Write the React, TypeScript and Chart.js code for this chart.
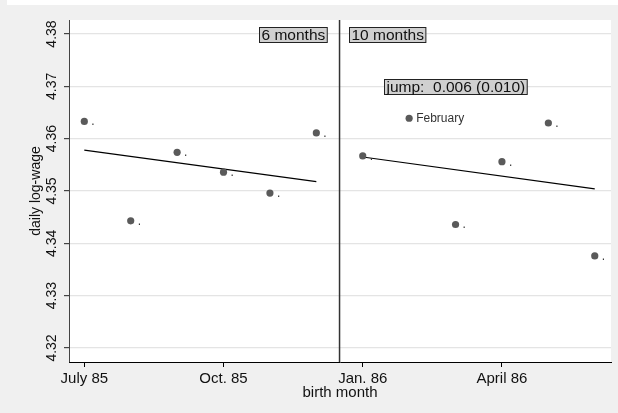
import React, { useEffect, useRef } from "react";
import { Chart, registerables } from "chart.js";

Chart.register(...registerables);

// ---- data ----
const birthMonth = [0, 1, 2, 3, 4, 5, 6, 7, 8, 9, 10, 11];
const logWage = [4.3633, 4.3443, 4.3574, 4.3536, 4.3496, 4.3611, 4.3567, 4.3639, 4.3436, 4.3556, 4.363, 4.3376];
const markerLabels = [".", ".", ".", ".", ".", ".", ".", "February", ".", ".", ".", "."];
const fitLeftX = [0, 5];
const fitLeftY = [4.3578, 4.3518];
const fitRightX = [6, 11];
const fitRightY = [4.3565, 4.3504];
const cutoff = 5.5;
const xTickValues = [0, 3, 6, 9];
const xTickLabels = ["July 85", "Oct. 85", "Jan. 86", "April 86"];
const yTickValues = [4.32, 4.33, 4.34, 4.35, 4.36, 4.37, 4.38];
const boxTexts = ["6 months", "10 months", "jump:  0.006 (0.010)"];

// ---- annotation placement (data coords) ----
const boxAnchors = [
  { x: 5.22, y: 4.38, align: "right" },
  { x: 5.7, y: 4.38, align: "left" },
  { x: 8.0, y: 4.37, align: "center" },
];

const X_MIN = -0.33;
const X_MAX = 11.35;
const Y_MIN = 4.31732;
const Y_MAX = 4.38268;
const FONT = '"Liberation Sans", Arial, Helvetica, sans-serif';

const decorPlugin = {
  id: "decor",
  beforeDraw(chart: any) {
    const { ctx, chartArea: a, width, height } = chart;
    ctx.save();
    ctx.fillStyle = "#f0f0f0";
    ctx.fillRect(0, 0, width, height);
    ctx.fillStyle = "#ffffff";
    ctx.fillRect(7, 0, width - 7, 5);
    ctx.fillRect(a.left, a.top, a.right - a.left, a.bottom - a.top);
    ctx.restore();
  },
  afterDatasetsDraw(chart: any) {
    const { ctx } = chart;
    const xs = chart.scales.x;
    const ys = chart.scales.y;
    ctx.save();
    // marker labels
    ctx.font = `12px ${FONT}`;
    ctx.fillStyle = "#333";
    ctx.textAlign = "left";
    ctx.textBaseline = "middle";
    birthMonth.forEach((m, i) => {
      const px = xs.getPixelForValue(m);
      const py = ys.getPixelForValue(logWage[i]);
      ctx.fillText(markerLabels[i], px + 7, py + 0.5);
    });
    // boxed text
    ctx.font = `15.5px ${FONT}`;
    ctx.textBaseline = "middle";
    ctx.textAlign = "left";
    boxTexts.forEach((t, i) => {
      const an = boxAnchors[i];
      const w = ctx.measureText(t).width;
      const bw = w + 4;
      const bh = 15;
      const ax = xs.getPixelForValue(an.x);
      const cy = ys.getPixelForValue(an.y);
      let left = ax;
      if (an.align === "right") left = ax - bw;
      else if (an.align === "center") left = ax - bw / 2;
      left = Math.round(left) + 0.5;
      const top = Math.round(cy - bh / 2) + 0.5;
      ctx.fillStyle = "#d0d0d0";
      ctx.fillRect(left, top, bw, bh);
      ctx.strokeStyle = "#222";
      ctx.lineWidth = 1;
      ctx.strokeRect(left, top, bw, bh);
      ctx.fillStyle = "#111";
      ctx.fillText(t, left + 2, top + bh / 2 + 0.5);
    });
    ctx.restore();
  },
};

export default function App() {
  const canvasRef = useRef<HTMLCanvasElement | null>(null);

  useEffect(() => {
    document.body.style.margin = "0";
    const canvas = canvasRef.current;
    if (!canvas) return;
    const points = birthMonth.map((m, i) => ({ x: m, y: logWage[i] }));
    const leftFit = fitLeftX.map((x, i) => ({ x, y: fitLeftY[i] }));
    const rightFit = fitRightX.map((x, i) => ({ x, y: fitRightY[i] }));
    const cutLine = [
      { x: cutoff, y: Y_MIN },
      { x: cutoff, y: Y_MAX },
    ];
    const chart = new Chart(canvas, {
      type: "scatter",
      data: {
        datasets: [
          {
            data: points,
            backgroundColor: "#5a5a5a",
            borderColor: "#5a5a5a",
            pointRadius: 3.6,
            pointBorderWidth: 0,
            showLine: false,
          },
          {
            data: leftFit,
            showLine: true,
            borderColor: "#000",
            borderWidth: 1.2,
            pointRadius: 0,
          },
          {
            data: rightFit,
            showLine: true,
            borderColor: "#000",
            borderWidth: 1.2,
            pointRadius: 0,
          },
          {
            data: cutLine,
            showLine: true,
            borderColor: "#333",
            borderWidth: 1.5,
            pointRadius: 0,
          },
        ],
      },
      options: {
        animation: false,
        responsive: true,
        maintainAspectRatio: false,
        layout: { padding: { top: 20, right: 7, left: 0, bottom: 0 } },
        plugins: {
          legend: { display: false },
          tooltip: { enabled: false },
        },
        scales: {
          x: {
            type: "linear",
            min: X_MIN,
            max: X_MAX,
            afterBuildTicks: (s: any) => {
              s.ticks = xTickValues.map((v) => ({ value: v }));
            },
            afterFit: (s: any) => {
              s.height = 51;
            },
            ticks: {
              callback: (v: any, i: number) => xTickLabels[i],
              font: { family: FONT, size: 15 },
              color: "#111",
              padding: 3,
              maxRotation: 0,
              minRotation: 0,
              autoSkip: false,
            },
            grid: {
              drawOnChartArea: false,
              drawTicks: true,
              tickLength: 5,
              tickColor: "#000",
            },
            border: { color: "#000", width: 1 },
            title: {
              display: true,
              text: "birth month",
              font: { family: FONT, size: 15 },
              color: "#111",
              padding: { top: 0, bottom: 11 },
            },
          },
          y: {
            type: "linear",
            min: Y_MIN,
            max: Y_MAX,
            afterBuildTicks: (s: any) => {
              s.ticks = yTickValues.map((v) => ({ value: v }));
            },
            afterFit: (s: any) => {
              s.width = 69;
            },
            ticks: {
              callback: (v: any) => Number(v).toFixed(2),
              font: { family: FONT, size: 14 },
              color: "#111",
              padding: -2,
              minRotation: 90,
              maxRotation: 90,
              crossAlign: "center",
              autoSkip: false,
            },
            grid: {
              color: "#e4e4e4",
              lineWidth: 1.2,
              drawTicks: true,
              tickLength: 5,
              tickColor: "#444",
            },
            border: { color: "#444", width: 1 },
            title: {
              display: true,
              text: "daily log-wage",
              font: { family: FONT, size: 14 },
              color: "#111",
              padding: { top: 27.6, bottom: 0 },
            },
          },
        },
      },
      plugins: [decorPlugin],
    } as any);
    return () => chart.destroy();
  }, []);

  return (
    <div style={{ width: 618, height: 413, position: "relative" }}>
      <canvas ref={canvasRef} />
    </div>
  );
}
